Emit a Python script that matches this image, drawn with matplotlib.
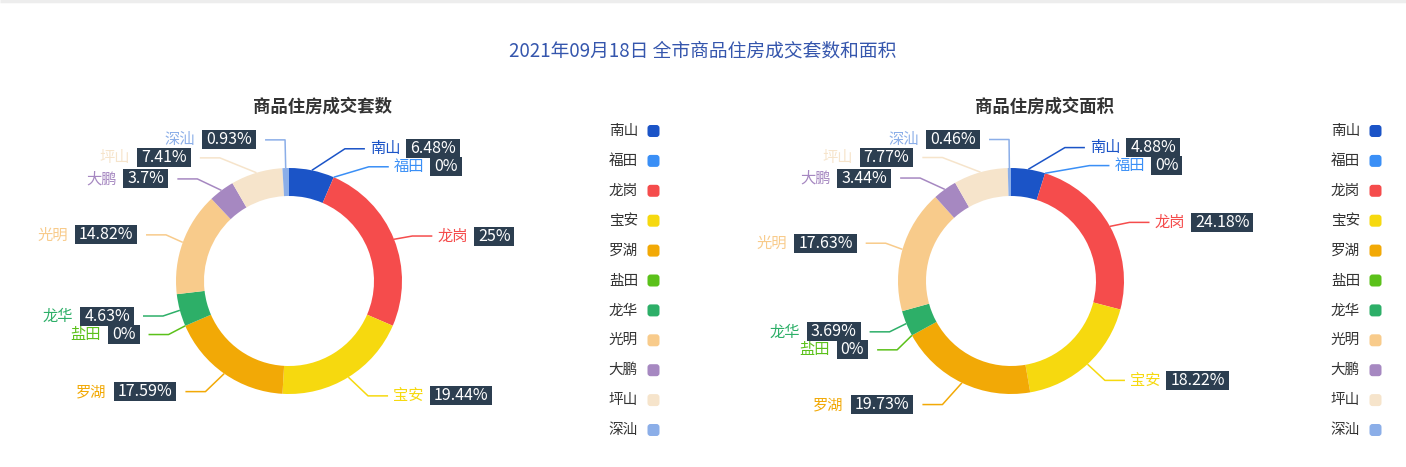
import matplotlib
matplotlib.use('Agg')
import matplotlib.pyplot as plt
from matplotlib.patches import FancyBboxPatch, Rectangle
import numpy as np

plt.rcParams['font.family'] = ['Noto Sans CJK SC', 'DejaVu Sans']

#===========data===========
title = '2021年09月18日 全市商品住房成交套数和面积'
subtitles = ['商品住房成交套数', '商品住房成交面积']
districts = ['南山', '福田', '龙岗', '宝安', '罗湖', '盐田', '龙华', '光明', '大鹏', '坪山', '深汕']
colors = ['#1b54c7', '#3a8ff6', '#f54c4c', '#f6d90f', '#f2a906', '#5bc11a', '#2daf68',
          '#f8cb8b', '#a688c1', '#f6e4cb', '#8baee8']
count_share = [6.48, 0, 25, 19.44, 17.59, 0, 4.63, 14.82, 3.7, 7.41, 0.93]   # %
area_share = [4.88, 0, 24.18, 18.22, 19.73, 0, 3.69, 17.63, 3.44, 7.77, 0.46]  # %
series = [count_share, area_share]

#===========layout (pixels, y down)===========
W, H = 1406, 467
R_OUT, RING = 113, 28
LEN1, LEN2 = 22, 20
LABEL_H = 18
CY = 281
CX = [289, 1011]
SUB_X = [323, 1045]
LEG_TEXT_X = [638, 1360]
BOX_BG = '#2c3e50'
FS_NAME = 11
FS_PCT = 11.5
BOX_PADX, BOX_H = 4, 19


def py(y):
    return H - y


def label_layout(values, cx, cy):
    total = float(sum(values))
    items = []
    acc = 0.0
    for i, v in enumerate(values):
        mid = (acc + v / 2) / total * 360
        acc += v
        a = np.radians(90 - mid)
        ux, uy = np.cos(a), -np.sin(a)
        d = -1 if ux < 0 else 1
        x1, y1 = cx + (R_OUT + LEN1) * ux, cy + (R_OUT + LEN1) * uy
        items.append(dict(i=i, d=d, p0=(cx + R_OUT * ux, cy + R_OUT * uy),
                          x=x1 + d * (LEN2 + 5), y=y1))

    # echarts-like overlap avoidance on each side
    for d in (-1, 1):
        lst = sorted([t for t in items if t['d'] == d], key=lambda t: t['y'])
        n = len(lst)

        def shift_up(end, delta):
            for j in range(end, -1, -1):
                lst[j]['y'] -= delta
                if j > 0 and lst[j]['y'] > lst[j - 1]['y'] + LABEL_H:
                    break

        def shift_down(start, end, delta):
            for j in range(start, end):
                lst[j]['y'] += delta
                if j > start and j + 1 < end and lst[j + 1]['y'] > lst[j]['y'] + LABEL_H:
                    shift_up(j, delta / 2)
                    return
            shift_up(end - 1, delta / 2)

        last = 0
        for k in range(n):
            delta = lst[k]['y'] - last
            if delta < 0:
                shift_down(k, n, -delta)
            last = lst[k]['y'] + LABEL_H

        r2 = R_OUT + LEN1 + LEN2
        for is_down in (False, True):
            part = [t for t in lst if (t['y'] >= cy) == is_down]
            lastdx = np.inf if is_down else 0
            for t in part:
                ddy = abs(t['y'] - cy)
                if ddy < R_OUT + LEN1:
                    ddx = np.sqrt(r2 ** 2 - ddy ** 2)
                else:
                    ddx = abs(t['x'] - cx)
                if is_down and ddx >= lastdx:
                    ddx = lastdx - 10
                if not is_down and ddx <= lastdx:
                    ddx = lastdx + 10
                t['x'] = cx + ddx * d
                lastdx = ddx
    return sorted(items, key=lambda t: t['i'])


fig = plt.figure(figsize=(W / 100, H / 100), dpi=100)
ax = fig.add_axes([0, 0, 1, 1])
renderer = fig.canvas.get_renderer()

ax.text(703, py(51), title, ha='center', va='center', fontsize=13.5, color='#3556ad')
ax.plot([0, W], [py(1), py(1)], color='#ededed', lw=2.5, solid_capstyle='butt')

for k, values in enumerate(series):
    cx = CX[k]
    ax.text(SUB_X[k], py(107), subtitles[k], ha='center', va='center',
            fontsize=12.5, fontweight='bold', color='#333333')

    ax.pie(values, colors=colors, startangle=90, counterclock=False,
           radius=R_OUT, center=(cx, py(CY)),
           wedgeprops=dict(width=RING, linewidth=0))

    for t in label_layout(values, cx, CY):
        i, d = t['i'], t['d']
        c = colors[i]
        y = py(t['y'])
        xe = t['x'] - d * 5
        xm = xe - d * LEN2
        ax.plot([t['p0'][0], xm, xe], [py(t['p0'][1]), y, y],
                color=c, lw=1.1, solid_capstyle='butt')
        pct = f'{values[i]:g}%'
        if d > 0:
            nm = ax.text(t['x'], y, districts[i], ha='left', va='center',
                         fontsize=FS_NAME, color=c)
            wn = nm.get_window_extent(renderer).width
            bx0 = t['x'] + wn + 6
            pt = ax.text(bx0 + BOX_PADX, y, pct, ha='left', va='center',
                         fontsize=FS_PCT, color='white', zorder=4)
            wp = pt.get_window_extent(renderer).width
        else:
            bx1 = t['x'] - 4
            pt = ax.text(bx1 - BOX_PADX, y, pct, ha='right', va='center',
                         fontsize=FS_PCT, color='white', zorder=4)
            wp = pt.get_window_extent(renderer).width
            bx0 = bx1 - wp - 2 * BOX_PADX
            ax.text(bx0 - 7, y, districts[i], ha='right', va='center',
                    fontsize=FS_NAME, color=c)
        ax.add_patch(Rectangle((bx0, y - BOX_H / 2), wp + 2 * BOX_PADX, BOX_H,
                               fc=BOX_BG, ec='none', zorder=3))

    # legend
    for i, name in enumerate(districts):
        ly = 131 + i * 29.9
        ax.text(LEG_TEXT_X[k], py(ly), name, ha='right', va='center',
                fontsize=10.5, color='#333333')
        ax.add_patch(FancyBboxPatch((LEG_TEXT_X[k] + 9.5, py(ly) - 6), 12, 12,
                                    boxstyle='round,pad=0,rounding_size=3',
                                    fc=colors[i], ec='none'))

ax.set_xlim(0, W)
ax.set_ylim(0, H)
ax.set_aspect('auto')
ax.axis('off')

fig.savefig('out.png', dpi=100, facecolor='white')
